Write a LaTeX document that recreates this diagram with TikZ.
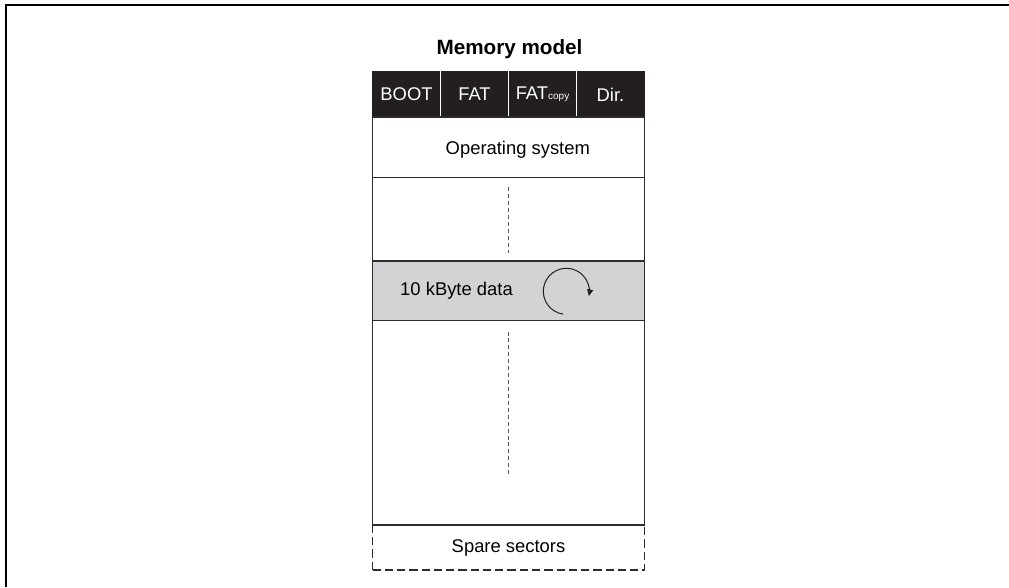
\documentclass[tikz,border=0pt]{standalone}
\usepackage{fontspec}
\setmainfont{Liberation Sans}
\usetikzlibrary{arrows.meta}

\definecolor{headblack}{HTML}{231F20}
\definecolor{bandgray}{HTML}{D1D3D4}
\definecolor{linegray}{HTML}{2E2B2C}
\definecolor{dashgray}{HTML}{58595B}

\begin{document}
\begin{tikzpicture}[
        x=0.75pt, y=0.75pt,
        >={Triangle[length=5pt, width=4.5pt]},
        font=\fontsize{13.8}{16}\selectfont,
        headcell/.style={rectangle, fill=headblack, draw=headblack, text=white, minimum width=51pt, minimum height=34pt, inner sep=0pt},
        memblock/.style={rectangle, draw=linegray, line width=0.8pt, minimum width=204pt, inner sep=0pt},
        databand/.style={memblock, fill=bandgray},
        sparebox/.style={rectangle, draw=linegray, line width=0.8pt, dash pattern=on 6.2pt off 3pt, minimum width=204pt, minimum height=33.75pt, inner sep=0pt},
        centerdash/.style={draw=dashgray, line width=0.6pt, dash pattern=on 3pt off 2.2pt},
        cycle/.style={draw=headblack, line width=0.75pt, ->}
    ]
    \useasboundingbox (0,0) rectangle (1009,587);

    % page frame (top and left only)
    \draw[line width=1.6pt] (6,0) -- (6,581.7) -- (1009,581.7);

    % ==========================================
    % 1. Title + header row
    % ==========================================
    \node[font=\fontsize{15.5}{18}\selectfont\bfseries] (title) at (509.5, 538) {Memory model};

    \node[headcell] (boot) at (406.5, 492.65) {BOOT};
    \node[headcell] (fat) at (474.5, 492.65) {FAT};
    \node[headcell] (fatcopy) at (542.5, 492.65) {FAT{\fontsize{7.5}{8}\selectfont copy}};
    \node[headcell] (dir) at (610.5, 492.65) {Dir.};

    % white separators
    \foreach \i in {boot, fat, fatcopy} {
        \draw[white, line width=0.7pt] (\i.north east) -- (\i.south east);
    }

    % ==========================================
    % 2. Memory blocks
    % ==========================================
    \node[sparebox] (spare) at (508.5, 39.5) {};
    \node at (spare.center) {Spare sectors};

    \node[memblock, minimum height=45.5pt] (os) at (508.5, 439.65) {};
    \node at ([xshift=7pt, yshift=-2pt]os.center) {Operating system};

    \node[memblock, minimum height=62.5pt] (free1) at (508.5, 367.65) {};

    \node[databand, minimum height=44.8pt] (data) at (508.5, 296.15) {};
    \node at ([xshift=-39pt]data.center) {10 kByte data};

    \node[memblock, minimum height=153.2pt] (free2) at (508.5, 164.15) {};

    % dashed centre lines
    \draw[centerdash] ([yshift=-7.5pt]free1.north) -- ([yshift=6.5pt]free1.south);
    \draw[centerdash] ([yshift=-8.5pt]free2.north) -- ([yshift=37.5pt]free2.south);

    % cyclic write arrow
    \coordinate (cyc) at ([xshift=43.35pt, yshift=-0.35pt]data.center);
    \draw[cycle] (cyc) ++(262:17.25pt) arc[start angle=262, end angle=-12, radius=17.25pt];

\end{tikzpicture}
\end{document}
